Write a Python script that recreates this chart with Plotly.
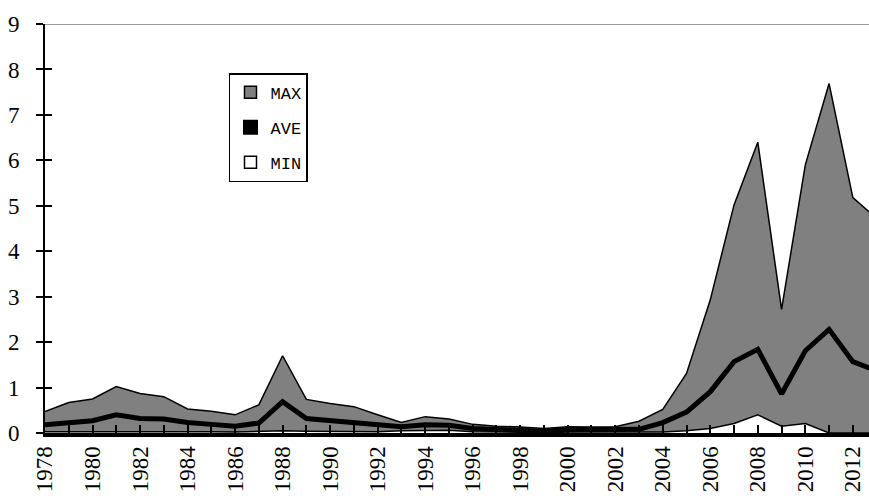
import plotly.graph_objects as go

years = list(range(1978, 2014))
max_vals = [0.47, 0.67, 0.75, 1.02, 0.87, 0.80, 0.53, 0.48, 0.40, 0.62,
            1.70, 0.74, 0.65, 0.58, 0.40, 0.23, 0.36, 0.31, 0.19, 0.15,
            0.13, 0.10, 0.14, 0.13, 0.14, 0.26, 0.52, 1.31, 2.93, 5.02,
            6.40, 2.72, 5.90, 7.69, 5.18, 4.72]
ave_vals = [0.18, 0.23, 0.27, 0.40, 0.32, 0.31, 0.23, 0.19, 0.15, 0.22,
            0.69, 0.32, 0.28, 0.24, 0.19, 0.14, 0.18, 0.17, 0.10, 0.08,
            0.07, 0.04, 0.07, 0.07, 0.07, 0.08, 0.23, 0.46, 0.91, 1.57,
            1.84, 0.86, 1.81, 2.28, 1.57, 1.37]
min_vals = [0.03, 0.03, 0.03, 0.04, 0.03, 0.03, 0.03, 0.03, 0.02, 0.03,
            0.05, 0.04, 0.04, 0.03, 0.03, 0.05, 0.06, 0.06, 0.03, 0.02,
            0.02, 0.01, 0.02, 0.02, 0.02, 0.02, 0.02, 0.05, 0.10, 0.21,
            0.40, 0.15, 0.21, 0.00, 0.00, 0.00]
tick_years = list(range(1978, 2014))
tick_text = [str(y) if y % 2 == 0 else "" for y in tick_years]
y_ticks = list(range(0, 10))

SERIF = "Liberation Serif"

fig = go.Figure()
fig.add_trace(go.Scatter(x=years, y=max_vals, name="MAX", mode="lines",
                         fill="tozeroy", fillcolor="#808080",
                         line=dict(color="black", width=1.5),
                         showlegend=False))
fig.add_trace(go.Scatter(x=years, y=min_vals, name="MIN", mode="lines",
                         fill="tozeroy", fillcolor="white",
                         line=dict(color="black", width=1.5),
                         showlegend=False))
fig.add_trace(go.Scatter(x=years, y=ave_vals, name="AVE", mode="lines",
                         line=dict(color="black", width=5),
                         yaxis="y2", showlegend=False))

# legend-only entries (square swatches)
legend_names = ["MAX", "AVE", "MIN"]
legend_fills = ["#808080", "black", "white"]
legend_lines = [1.5, 3, 1.5]
for i, (nm, fc, lw) in enumerate(zip(legend_names, legend_fills, legend_lines)):
    fig.add_trace(go.Bar(x=[None], y=[None], name=nm,
                         marker=dict(color=fc, line=dict(color="black", width=lw)),
                         legendrank=i + 1, legendgroup=nm, showlegend=True))

fig.update_layout(
    width=869, height=499,
    margin=dict(l=45, r=0, t=24, b=66),
    plot_bgcolor="white", paper_bgcolor="white",
    showlegend=True,
    legend=dict(x=0.2233, y=0.88, xanchor="left", yanchor="top",
                bordercolor="black", borderwidth=1.5, bgcolor="white",
                font=dict(family="Liberation Mono", size=17, color="black"),
                traceorder="grouped", tracegroupgap=10,
                itemwidth=30),
    xaxis=dict(range=[1978, 2012.68], tickvals=tick_years, ticktext=tick_text,
               tickangle=-90, ticks="inside", ticklen=8, tickwidth=2,
               tickcolor="black", showline=True, linecolor="black",
               linewidth=4, showgrid=False, zeroline=False,
               ticklabelstandoff=0, automargin=False,
               tickfont=dict(family=SERIF, size=23, color="black")),
    yaxis=dict(range=[0, 9], tickvals=y_ticks, ticks="outside", ticklen=7,
               tickwidth=2, tickcolor="black", showline=True,
               linecolor="black", linewidth=2, showgrid=False,
               zeroline=False, ticklabelstandoff=12, automargin=False,
               tickfont=dict(family=SERIF, size=23, color="black")),
    yaxis2=dict(range=[0, 9], overlaying="y", side="left", tickvals=y_ticks,
                ticks="inside", ticklen=7, tickwidth=2, tickcolor="black",
                showticklabels=False, showgrid=False, zeroline=False,
                showline=False, automargin=False),
    shapes=[dict(type="line", xref="paper", x0=0, x1=1, yref="y", y0=9, y1=9,
                 line=dict(color="#999999", width=2))],
)

fig.write_html("out.html",
               config={"displayModeBar": False},
               post_script="document.body.style.margin='0';document.body.style.overflow='hidden';")
